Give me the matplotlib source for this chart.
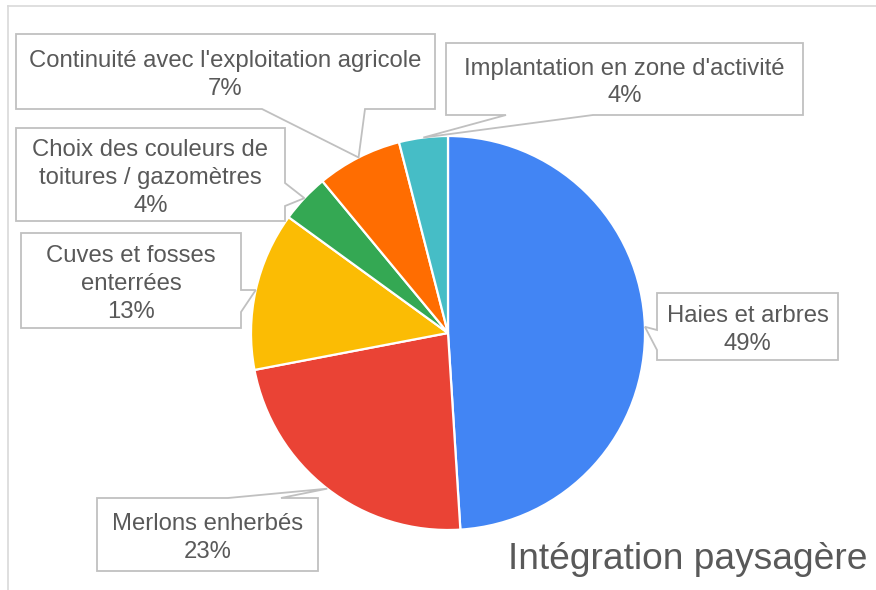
"""Pie chart: Intégration paysagère (Google Sheets style callouts)."""
import numpy as np
import matplotlib
matplotlib.use("Agg")
import matplotlib.pyplot as plt
from matplotlib.patches import Polygon

W, H = 876, 590

labels = ["Haies et arbres", "Merlons enherbés", "Cuves et fosses\nenterrées",
          "Choix des couleurs de\ntoitures / gazomètres",
          "Continuité avec l'exploitation agricole",
          "Implantation en zone d'activité"]
values = [49, 23, 13, 4, 7, 4]
colors = ["#4285F4", "#EA4335", "#FBBC04", "#34A853", "#FF6D01", "#46BDC6"]

# callout boxes in pixel coords (x0, y0, x1, y1), side of pointer, pointer base
boxes = [
    ((657, 293, 838, 360), "left", (330, 350)),
    ((97, 498, 318, 571), "top", (228, 281)),
    ((21, 233, 241, 328), "right", (290, 312)),
    ((16, 128, 285, 221), "right", (183, 206)),
    ((16, 34, 435, 109), "bottom", (262, 365)),
    ((446, 43, 803, 115), "bottom", (506, 593)),
]

CX, CY, R = 448, 333, 197
TXT = "#595959"
EDGE = "#c0c0c0"
FONT = "Liberation Sans"


def fy(y):
    return H - y


def callout(ax, box, side, base, tip, text):
    x0, y0, x1, y1 = box
    a, b = base
    tl, tr, br, bl = (x0, y0), (x1, y0), (x1, y1), (x0, y1)
    if side == "top":
        pts = [tl, (a, y0), tip, (b, y0), tr, br, bl]
    elif side == "right":
        pts = [tl, tr, (x1, a), tip, (x1, b), br, bl]
    elif side == "bottom":
        pts = [tl, tr, br, (b, y1), tip, (a, y1), bl]
    else:
        pts = [tl, tr, br, bl, (x0, b), tip, (x0, a)]
    pts = [(x, fy(y)) for x, y in pts]
    ax.add_patch(Polygon(pts, closed=True, facecolor="white", edgecolor=EDGE,
                         linewidth=1.3, zorder=3))
    ax.text((x0 + x1) / 2, fy((y0 + y1) / 2 + 3.5), text, ha="center", va="center",
            fontsize=17.2, color=TXT, family=FONT, linespacing=1.33, zorder=4)


fig = plt.figure(figsize=(W / 100, H / 100), dpi=100)
ax = fig.add_axes([0, 0, 1, 1])
wedges, _ = ax.pie(values, colors=colors, startangle=90, counterclock=False,
                   center=(CX, fy(CY)), radius=R,
                   wedgeprops=dict(edgecolor="white", linewidth=1.6))
ax.set_xlim(0, W)
ax.set_ylim(0, H)
ax.set_aspect("equal")
ax.axis("off")

total = sum(values)
for w, lab, v, (box, side, base) in zip(wedges, labels, values, boxes):
    mid = np.deg2rad((w.theta1 + w.theta2) / 2)
    tip = (CX + R * np.cos(mid), CY - R * np.sin(mid))
    callout(ax, box, side, base, tip, f"{lab}\n{round(100 * v / total)}%")

# frame lines
ax.plot([8, W], [fy(6), fy(6)], color="#d9d9d9", lw=1.2)
ax.plot([8, 8], [fy(6), 0], color="#d9d9d9", lw=1.2)

ax.text(867, fy(569), "Intégration paysagère", ha="right", va="baseline",
        fontsize=26.7, color=TXT, family=FONT)

fig.savefig("out.png", dpi=100)
